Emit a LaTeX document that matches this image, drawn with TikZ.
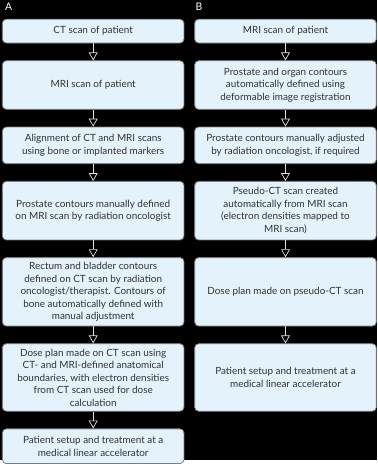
\documentclass[tikz,border=0pt]{standalone}
\usepackage{fontspec}
\setmainfont{Lato}
\usepackage{tikz}
\usetikzlibrary{arrows.meta,positioning}
\definecolor{boxfill}{RGB}{228,242,251}
\definecolor{boxline}{RGB}{125,125,125}
\definecolor{boxtext}{RGB}{50,50,50}
\definecolor{arrowline}{RGB}{225,225,225}

\begin{document}
\begin{tikzpicture}[>={Triangle[open,width=9pt,length=8pt]},node distance=17pt,
    every node/.style={align=center},
    box/.style={draw=boxline,line width=0.8pt,rounded corners=4pt,fill=boxfill,text=boxtext,
      minimum width=183pt,inner sep=2pt,font=\fontsize{10}{12.6}\selectfont},
    flow/.style={->,draw=arrowline,line width=0.7pt},
    panel/.style={text=white,font=\fontsize{10.5}{12}\selectfont,inner sep=0pt}]
    \fill[black] (0,0) rectangle (380pt,-464pt);
    % panel A
    \node[panel,anchor=north west] (pa) at (5pt,-3pt) {A};
    \node[box,minimum height=24pt,anchor=north west] (a1) at (2pt,-19pt) {CT scan of patient};
    \node[box,minimum height=49pt,below=of a1] (a2) {MRI scan of patient};
    \node[box,minimum height=37pt,below=of a2] (a3) {Alignment of CT and MRI scans\\using bone or implanted markers};
    \node[box,minimum height=59pt,below=of a3] (a4) {Prostate contours manually defined\\on MRI scan by radiation oncologist};
    \node[box,minimum height=69pt,below=of a4] (a5) {Rectum and bladder contours\\defined on CT scan by radiation\\oncologist/therapist. Contours of\\bone automatically defined with\\manual adjustment};
    \node[box,minimum height=68pt,below=of a5] (a6) {Dose plan made on CT scan using\\CT- and MRI-defined anatomical\\boundaries, with electron densities\\from CT scan used for dose\\calculation};
    \node[box,minimum height=35pt,below=of a6] (a7) {Patient setup and treatment at a\\medical linear accelerator};
    % panel B
    \node[panel,anchor=north west] (pb) at (197pt,-3pt) {B};
    \node[box,minimum height=24pt,right=10pt of a1] (b1) {MRI scan of patient};
    \node[box,minimum height=49pt,right=10pt of a2] (b2) {Prostate and organ contours\\automatically defined using\\deformable image registration};
    \node[box,minimum height=37pt,right=10pt of a3] (b3) {Prostate contours manually adjusted\\by radiation oncologist, if required};
    \node[box,minimum height=59pt,right=10pt of a4] (b4) {Pseudo-CT scan created\\automatically from MRI scan\\(electron densities mapped to\\MRI scan)};
    \node[box,minimum height=69pt,right=10pt of a5] (b5) {Dose plan made on pseudo-CT scan};
    \node[box,minimum height=68pt,right=10pt of a6] (b6) {Patient setup and treatment at a\\medical linear accelerator};
    \foreach \i/\j in {1/2,2/3,3/4,4/5,5/6,6/7}
      \draw[flow] (a\i) -- (a\j);
    \foreach \i/\j in {1/2,2/3,3/4,4/5,5/6}
      \draw[flow] (b\i) -- (b\j);
  \end{tikzpicture}
\end{document}
